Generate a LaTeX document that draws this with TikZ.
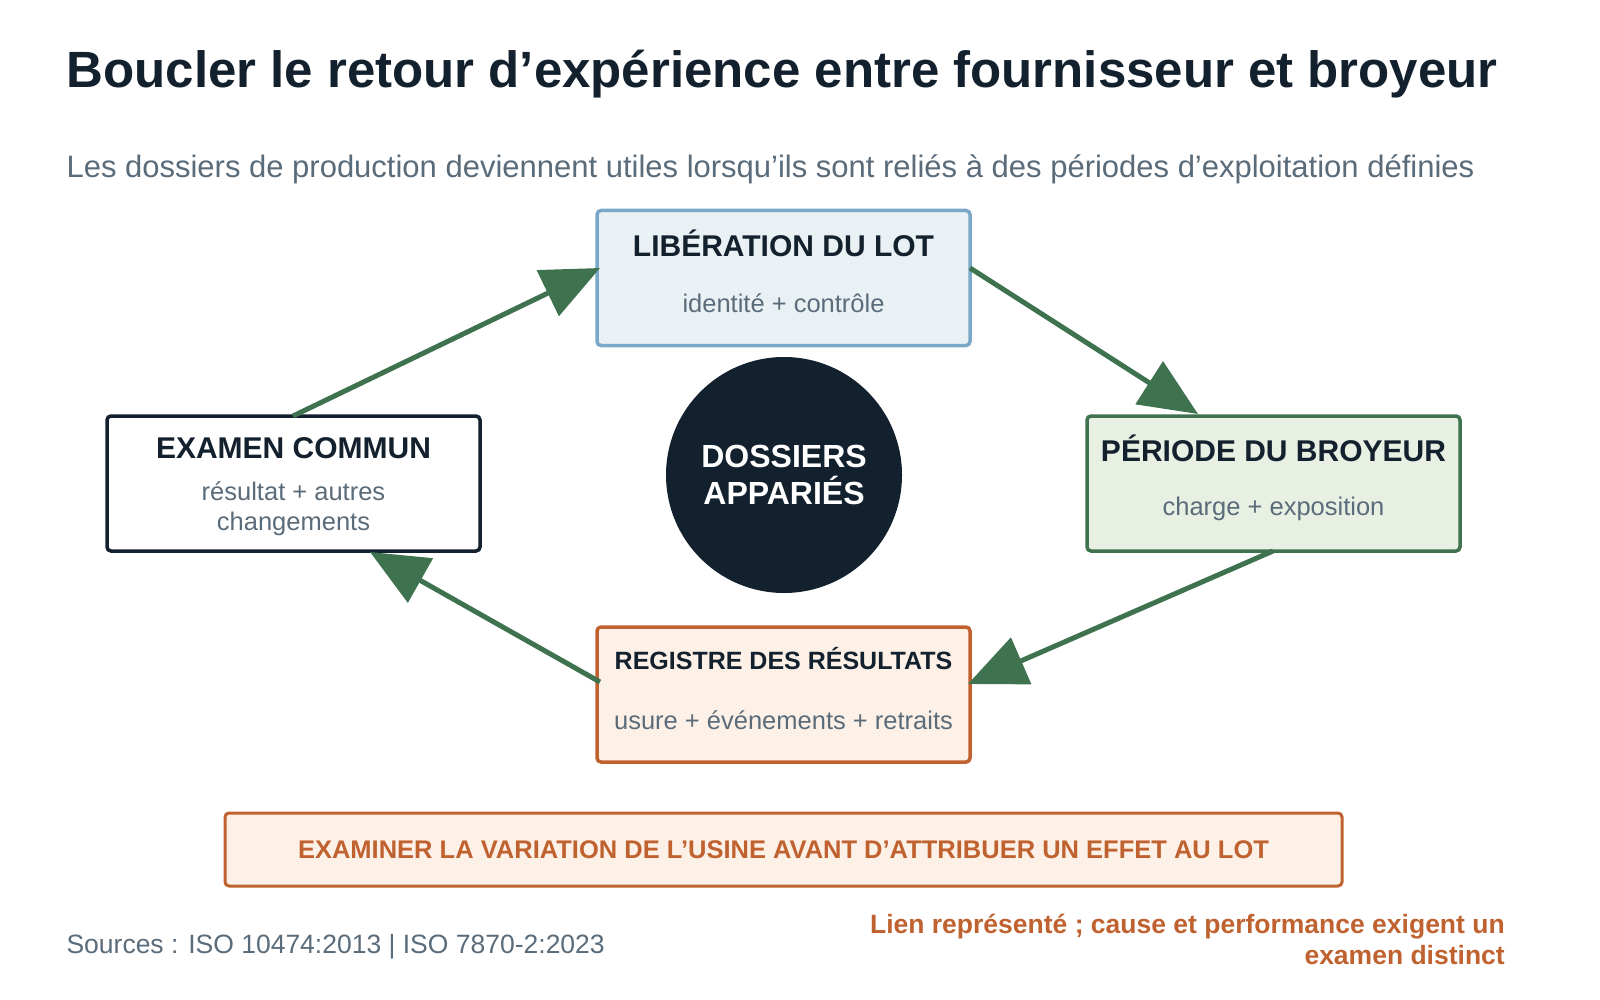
\documentclass[tikz,border=0pt]{standalone}
\usepackage{fontspec}
\setmainfont{Liberation Sans}
\usetikzlibrary{arrows.meta}
\definecolor{ink}{HTML}{13202D}
\definecolor{mut}{HTML}{5A6B7A}
\definecolor{grn}{HTML}{3F7350}
\definecolor{org}{HTML}{C0622F}
\definecolor{bl}{HTML}{7AA8C8}
\definecolor{fbl}{HTML}{EAF1F5}
\definecolor{fgr}{HTML}{E8F0E3}
\definecolor{for}{HTML}{FDF1E7}
\begin{document}
\begin{tikzpicture}[x=1pt,y=-1pt,
 box/.style={draw,line width=3.5pt,rounded corners=4pt,minimum width=373pt,minimum height=135pt},
 hd/.style={font=\fontsize{30}{34}\selectfont\bfseries,text=ink},
 sb/.style={font=\fontsize{25.5}{30}\selectfont,text=mut,align=center},
 arr/.style={draw=grn,line width=5pt,-{Triangle[length=58pt,width=50pt]}}]
\useasboundingbox (0,0) rectangle (1600,1000);
\node[anchor=base west,font=\fontsize{51}{56}\selectfont\bfseries,text=ink] (t) at (63,88) {Boucler le retour d’expérience entre fournisseur et broyeur};
\node[anchor=base west,font=\fontsize{31}{34}\selectfont,text=mut] (s) at (63,178) {Les dossiers de production deviennent utiles lorsqu’ils sont reliés à des périodes d’exploitation définies};
\node[box,draw=bl,fill=fbl] (lib) at (783.5,278) {};
\node[hd] at (783.5,243) {LIBÉRATION DU LOT};
\node[sb] at (783.5,303) {identité + contrôle};
\node[box,draw=grn,fill=fgr] (per) at (1273.5,483.5) {};
\node[hd] at (1273.5,448) {PÉRIODE DU BROYEUR};
\node[sb] at (1273.5,509) {charge + exposition};
\node[box,draw=org,fill=for] (reg) at (783.5,694.5) {};
\node[hd,font=\fontsize{25}{30}\selectfont\bfseries] at (783.5,659) {REGISTRE DES RÉSULTATS};
\node[sb] at (783.5,720) {usure + événements + retraits};
\node[box,draw=ink,fill=white] (ex) at (293.5,483.5) {};
\node[hd] at (293.5,448) {EXAMEN COMMUN};
\node[sb] at (293.5,509) {résultat + autres\\changements};
\node[circle,fill=ink,minimum size=236pt,text=white,align=center,font=\fontsize{32}{37}\selectfont\bfseries] (c) at (784,475) {DOSSIERS\\APPARIÉS};
\coordinate (a1) at (293,416); \coordinate (b1) at (600,268);
\coordinate (a2) at (970,268); \coordinate (b2) at (1198,414);
\coordinate (a3) at (1273,551); \coordinate (b3) at (968,684);
\coordinate (a4) at (600,682); \coordinate (b4) at (370,552);
\draw[arr] (a1) -- (b1);
\draw[arr] (a2) -- (b2);
\draw[arr] (a3) -- (b3);
\draw[arr] (a4) -- (b4);
\node[draw=org,fill=for,line width=3pt,rounded corners=4pt,minimum width=1117pt,minimum height=73pt,text=org,font=\fontsize{25.5}{30}\selectfont\bfseries] (ban) at (783.5,849.5) {EXAMINER LA VARIATION DE L’USINE AVANT D’ATTRIBUER UN EFFET AU LOT};
\node[anchor=base west,font=\fontsize{26.5}{30}\selectfont,text=mut] (src) at (63,953) {Sources : ISO 10474:2013 | ISO 7870-2:2023};
\node[anchor=north east,align=right,font=\fontsize{26.5}{31}\selectfont\bfseries,text=org,inner sep=0pt] (note) at (1505,914) {Lien représenté ; cause et performance exigent un\\examen distinct};
\end{tikzpicture}
\end{document}
